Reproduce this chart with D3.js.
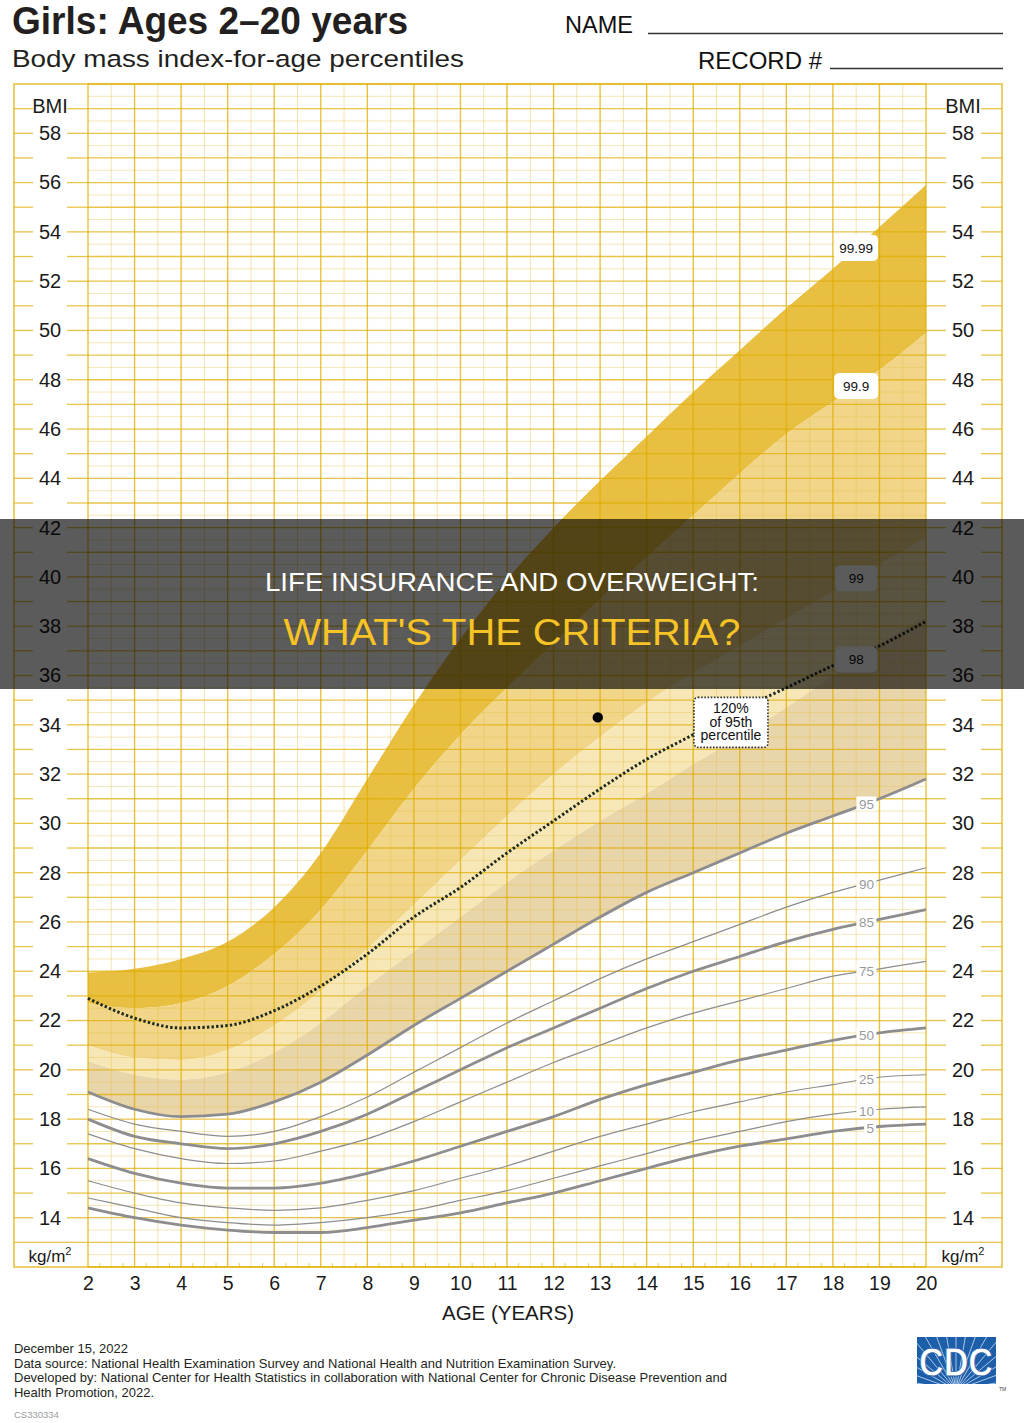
<!DOCTYPE html>
<html><head><meta charset="utf-8">
<script src="https://cdn.jsdelivr.net/npm/d3@7"></script>
<style>body{margin:0;background:#fff} svg{display:block} text{font-family:"Liberation Sans",Arial,Helvetica,sans-serif}</style>
</head><body><svg id="c" width="1024" height="1423"></svg>
<script>
// ---------------- DATA ----------------
const ages  = [2,3,4,5,6,7,8,9,10,11,12,13,14,15,16,17,18,19,20];
const bmiTicks = [14,16,18,20,22,24,26,28,30,32,34,36,38,40,42,44,46,48,50,52,54,56,58];
const p5    = [14.4,14.0,13.7,13.5,13.4,13.4,13.6,13.9,14.2,14.6,15.0,15.5,16.0,16.5,16.9,17.2,17.5,17.7,17.8];
const p10   = [14.8,14.4,14.0,13.8,13.7,13.8,14.0,14.3,14.7,15.1,15.6,16.1,16.6,17.1,17.5,17.9,18.2,18.4,18.5];
const p25   = [15.5,15.0,14.6,14.4,14.3,14.4,14.7,15.1,15.6,16.1,16.7,17.3,17.8,18.3,18.7,19.1,19.4,19.7,19.8];
const p50   = [16.4,15.8,15.4,15.2,15.2,15.4,15.8,16.3,16.9,17.5,18.1,18.8,19.4,19.9,20.4,20.8,21.2,21.5,21.7];
const p75   = [17.4,16.8,16.4,16.2,16.3,16.7,17.2,17.9,18.7,19.5,20.3,21.0,21.7,22.3,22.8,23.3,23.8,24.1,24.4];
const p85   = [18.0,17.3,17.0,16.8,17.0,17.5,18.2,19.1,20.0,20.9,21.7,22.5,23.3,24.0,24.6,25.2,25.7,26.1,26.5];
const p90   = [18.4,17.8,17.5,17.3,17.5,18.1,18.9,19.9,20.9,21.9,22.8,23.7,24.5,25.2,25.9,26.6,27.2,27.7,28.2];
const p95   = [19.1,18.4,18.1,18.2,18.7,19.5,20.6,21.8,22.9,24.0,25.1,26.2,27.2,28.0,28.8,29.6,30.3,31.0,31.8];
const p98   = [20.35,19.8,19.6,19.9,20.7,21.9,23.4,24.8,26.2,27.6,28.9,30.1,31.2,32.4,33.5,34.7,36.0,37.3,38.4];
const p99   = [21.0,20.5,20.4,20.8,21.8,23.2,24.9,26.7,28.5,30.3,32.0,33.5,34.9,36.1,37.2,38.3,39.4,40.5,41.6];
const p999  = [22.7,22.5,22.7,23.4,24.7,26.5,28.9,31.4,33.6,35.5,37.3,39.1,40.8,42.5,44.2,45.8,47.1,48.4,49.9];
const p9999 = [23.95,24.1,24.5,25.2,26.6,28.8,31.8,34.8,37.5,39.9,42.0,43.9,45.7,47.5,49.2,50.9,52.5,54.2,55.9];
const p120  = [22.9,22.1,21.7,21.8,22.4,23.4,24.7,26.2,27.4,28.8,30.1,31.4,32.6,33.6,34.6,35.5,36.4,37.2,38.2];
const lowerNames = ["95","90","85","75","50","25","10","5"];
const upperNames = ["99.99","99.9","99","98"];
const patient = {age:12.95, bmi:34.3};

// ---------------- SETUP ----------------
const W=1024,H=1423;
const svg=d3.select('#c');
const x=d3.scaleLinear().domain([2,20]).range([88,926]);
const y=d3.scaleLinear().domain([12,60]).range([1267,84]);
const box={l:14,r:1002,t:84,b:1267};
const MAJ='#dfad00', MIN='#e6c24a';
svg.append('rect').attr('width',W).attr('height',H).attr('fill','#fff');

function at(arr,a){ const i=Math.min(Math.floor(a)-2,17); const f=a-(i+2); return arr[i]+(arr[i+1]-arr[i])*f; }

// ---------------- BANDS ----------------
const area=d3.area().x((d,i)=>x(ages[i])).y0(d=>y(d[1])).y1(d=>y(d[0])).curve(d3.curveMonotoneX);
[[p9999,p999,'#e8bf40'],[p999,p99,'#f1d589'],[p99,p98,'#f7e7b6'],[p98,p95,'#e9d5aa']].forEach(([a,b,c])=>{
  svg.append('path').datum(ages.map((_,i)=>[a[i],b[i]])).attr('d',area).attr('fill',c);
});

// ---------------- GRID ----------------
const g=svg.append('g');
d3.range(12,60.001,0.5).forEach(v=>{
  const major=Number.isInteger(v);
  g.append('line').attr('x1',x(2)).attr('x2',x(20)).attr('y1',y(v)).attr('y2',y(v))
   .attr('stroke',major?MAJ:MIN).attr('stroke-opacity',major?0.72:0.4).attr('stroke-width',major?1.3:1);
});
d3.range(2,20.001,0.5).forEach(a=>{
  const major=Number.isInteger(a);
  g.append('line').attr('x1',x(a)).attr('x2',x(a)).attr('y1',box.t).attr('y2',box.b)
   .attr('stroke',major?MAJ:MIN).attr('stroke-opacity',major?0.75:0.45).attr('stroke-width',major?1.4:1);
});
d3.range(2.25,20,0.5).forEach(a=>{
  g.append('line').attr('x1',x(a)).attr('x2',x(a)).attr('y1',box.b-4).attr('y2',box.b)
   .attr('stroke',MAJ).attr('stroke-opacity',0.6).attr('stroke-width',1);
});
// label-column tick segments
d3.range(13,60,1).forEach(v=>{
  const segs = v===13 ? [[box.l,x(2)],[x(20),box.r]] : [[box.l,33],[67,x(2)],[x(20),946],[981,box.r]];
  segs.forEach(s=>g.append('line').attr('x1',s[0]).attr('x2',s[1]).attr('y1',y(v)).attr('y2',y(v))
    .attr('stroke',MAJ).attr('stroke-opacity',0.72).attr('stroke-width',1.3));
});
g.append('rect').attr('x',box.l).attr('y',box.t).attr('width',box.r-box.l).attr('height',box.b-box.t)
  .attr('fill','none').attr('stroke',MAJ).attr('stroke-opacity',0.75).attr('stroke-width',1.6);

// ---------------- PERCENTILE LINES ----------------
const line=d3.line().x((d,i)=>x(ages[i])).y(d=>y(d)).curve(d3.curveMonotoneX);
const lower=[p95,p90,p85,p75,p50,p25,p10,p5];
const thick={"95":1,"85":1,"50":1,"5":1};
lower.forEach((arr,k)=>{
  svg.append('path').datum(arr).attr('d',line).attr('fill','none')
    .attr('stroke','#8d8d8f').attr('stroke-width',thick[lowerNames[k]]?2.8:1.2);
});
// dotted 120% line
svg.append('path').datum(p120).attr('d',line).attr('fill','none')
  .attr('stroke','#1e2a1e').attr('stroke-width',3).attr('stroke-dasharray','2.4,2.2');

// lower labels
lower.forEach((arr,k)=>{
  const a = lowerNames[k]==="5" ? 18.8 : 18.72;
  const cx=x(a), cy=y(at(arr,a));
  const w=lowerNames[k].length*8+4;
  svg.append('rect').attr('x',cx-w/2).attr('y',cy-7).attr('width',w).attr('height',14).attr('fill','#fff');
  svg.append('text').attr('x',cx).attr('y',cy+5).attr('text-anchor','middle').attr('font-size',13.5)
    .attr('fill','#9a9a9c').text(lowerNames[k]);
});
// upper labels
[p9999,p999,p99,p98].forEach((arr,k)=>{
  const a=18.5, cx=x(a), cy=y(at(arr,a));
  const w=upperNames[k].length>3?44:42;
  svg.append('rect').attr('x',cx-w/2).attr('y',cy-13).attr('width',w).attr('height',26).attr('rx',5).attr('fill','#fff');
  svg.append('text').attr('x',cx).attr('y',cy+5).attr('text-anchor','middle').attr('font-size',13.5)
    .attr('fill','#111').text(upperNames[k]);
});
// 120% annotation box
{
  const cx=x(15.81), cy=y(34.1);
  svg.append('rect').attr('x',cx-37).attr('y',cy-25).attr('width',74).attr('height',50).attr('rx',4)
    .attr('fill','#fff').attr('stroke','#333').attr('stroke-width',1.6).attr('stroke-dasharray','1.6,1.6');
  ["120%","of 95th","percentile"].forEach((t,i)=>svg.append('text').attr('x',cx).attr('y',cy-9+i*13.5)
    .attr('text-anchor','middle').attr('font-size',14).attr('fill','#111').text(t));
}
// patient point
svg.append('circle').attr('cx',x(patient.age)).attr('cy',y(patient.bmi)).attr('r',5.2).attr('fill','#000');

// ---------------- AXES ----------------
const xAxis=svg.append('g').attr('transform',`translate(0,${box.b})`)
  .call(d3.axisBottom(x).tickValues(ages).tickSize(0).tickPadding(9).tickFormat(d3.format('d')));
xAxis.select('.domain').remove();
xAxis.selectAll('text').attr('font-size',19.5).attr('fill','#1a1a1a').attr('font-family','"Liberation Sans",Arial,sans-serif');

function yLab(xc){
  const ax=svg.append('g').attr('transform',`translate(${xc},0)`)
    .call(d3.axisLeft(y).tickValues(bmiTicks).tickSize(0).tickPadding(0).tickFormat(d3.format('d')));
  ax.select('.domain').remove();
  ax.selectAll('text').attr('text-anchor','middle').attr('x',0).attr('font-size',20).attr('fill','#1a1a1a')
    .attr('font-family','"Liberation Sans",Arial,sans-serif');
  svg.append('text').attr('x',xc).attr('y',y(59)+4).attr('text-anchor','middle').attr('font-size',20).attr('fill','#1a1a1a').text('BMI');
  const t=svg.append('text').attr('x',xc).attr('y',y(12.5)+7).attr('text-anchor','middle').attr('font-size',17).attr('fill','#1a1a1a');
  t.append('tspan').text('kg/m');
  t.append('tspan').attr('font-size',11).attr('dy',-7).text('2');
}
yLab(50); yLab(963);

svg.append('text').attr('x',508).attr('y',1320).attr('text-anchor','middle').attr('font-size',20)
  .attr('fill','#1a1a1a').attr('textLength',132).attr('lengthAdjust','spacingAndGlyphs').text('AGE (YEARS)');

// ---------------- HEADER ----------------
svg.append('text').attr('x',12).attr('y',34).attr('font-size',38).attr('font-weight','bold')
  .attr('font-family','"Liberation Sans Narrow","DejaVu Sans Condensed","Arial Narrow",sans-serif')
  .attr('fill','#231f20').attr('textLength',396).attr('lengthAdjust','spacingAndGlyphs').text('Girls: Ages 2–20 years');
svg.append('text').attr('x',12).attr('y',67).attr('font-size',24.5).attr('fill','#231f20')
  .attr('textLength',452).attr('lengthAdjust','spacingAndGlyphs').text('Body mass index-for-age percentiles');
svg.append('text').attr('x',565).attr('y',33).attr('font-size',24).attr('fill','#111')
  .attr('textLength',68).attr('lengthAdjust','spacingAndGlyphs').text('NAME');
svg.append('line').attr('x1',648).attr('x2',1003).attr('y1',33.5).attr('y2',33.5).attr('stroke','#333').attr('stroke-width',1.4);
svg.append('text').attr('x',698).attr('y',69).attr('font-size',24).attr('fill','#111')
  .attr('textLength',124).attr('lengthAdjust','spacingAndGlyphs').text('RECORD #');
svg.append('line').attr('x1',830).attr('x2',1003).attr('y1',68.5).attr('y2',68.5).attr('stroke','#333').attr('stroke-width',1.4);

// ---------------- FOOTER ----------------
const foot=["December 15, 2022",
 "Data source: National Health Examination Survey and National Health and Nutrition Examination Survey.",
 "Developed by: National Center for Health Statistics in collaboration with National Center for Chronic Disease Prevention and",
 "Health Promotion, 2022."];
const footLen=[114,602,713,140];
foot.forEach((t,i)=>svg.append('text').attr('x',14).attr('y',1353+i*14.6).attr('font-size',13).attr('fill','#231f20')
  .attr('textLength',footLen[i]).attr('lengthAdjust','spacingAndGlyphs').text(t));
svg.append('text').attr('x',14).attr('y',1418).attr('font-size',9.5).attr('fill','#9b9b9b').text('CS330334');

// CDC logo
{
  const lg=svg.append('g');
  lg.append('rect').attr('x',917).attr('y',1337).attr('width',79).attr('height',47).attr('fill','#1d5ea9');
  const clip=svg.append('clipPath').attr('id','lc'); clip.append('rect').attr('x',917).attr('y',1337).attr('width',79).attr('height',47);
  const rays=lg.append('g').attr('clip-path','url(#lc)');
  d3.range(-80,81,10).forEach(d=>{ const r=d*Math.PI/180;
    rays.append('line').attr('x1',956).attr('y1',1390).attr('x2',956+80*Math.sin(r)).attr('y2',1390-80*Math.cos(r))
      .attr('stroke','#a9c6e8').attr('stroke-width',1); });
  lg.append('text').attr('x',956).attr('y',1376).attr('text-anchor','middle').attr('font-size',40).attr('font-weight','bold')
    .attr('font-family','"Liberation Serif","DejaVu Serif",serif').attr('fill','#fff').attr('stroke','#1d5ea9').attr('stroke-width',0.8)
    .attr('textLength',74).attr('lengthAdjust','spacingAndGlyphs').text('CDC');
  lg.append('text').attr('x',999).attr('y',1391).attr('font-size',5).attr('fill','#444').text('TM');
}

// ---------------- OVERLAY ----------------
svg.append('rect').attr('x',0).attr('y',519).attr('width',W).attr('height',170).attr('fill','#000').attr('fill-opacity',0.645);
svg.append('text').attr('x',512).attr('y',591).attr('text-anchor','middle').attr('font-size',26).attr('fill','#fff')
  .attr('textLength',494).attr('lengthAdjust','spacingAndGlyphs').text('LIFE INSURANCE AND OVERWEIGHT:');
svg.append('text').attr('x',512).attr('y',645).attr('text-anchor','middle').attr('font-size',37).attr('fill','#f7c325')
  .attr('textLength',457).attr('lengthAdjust','spacingAndGlyphs').text("WHAT'S THE CRITERIA?");
</script></body></html>
